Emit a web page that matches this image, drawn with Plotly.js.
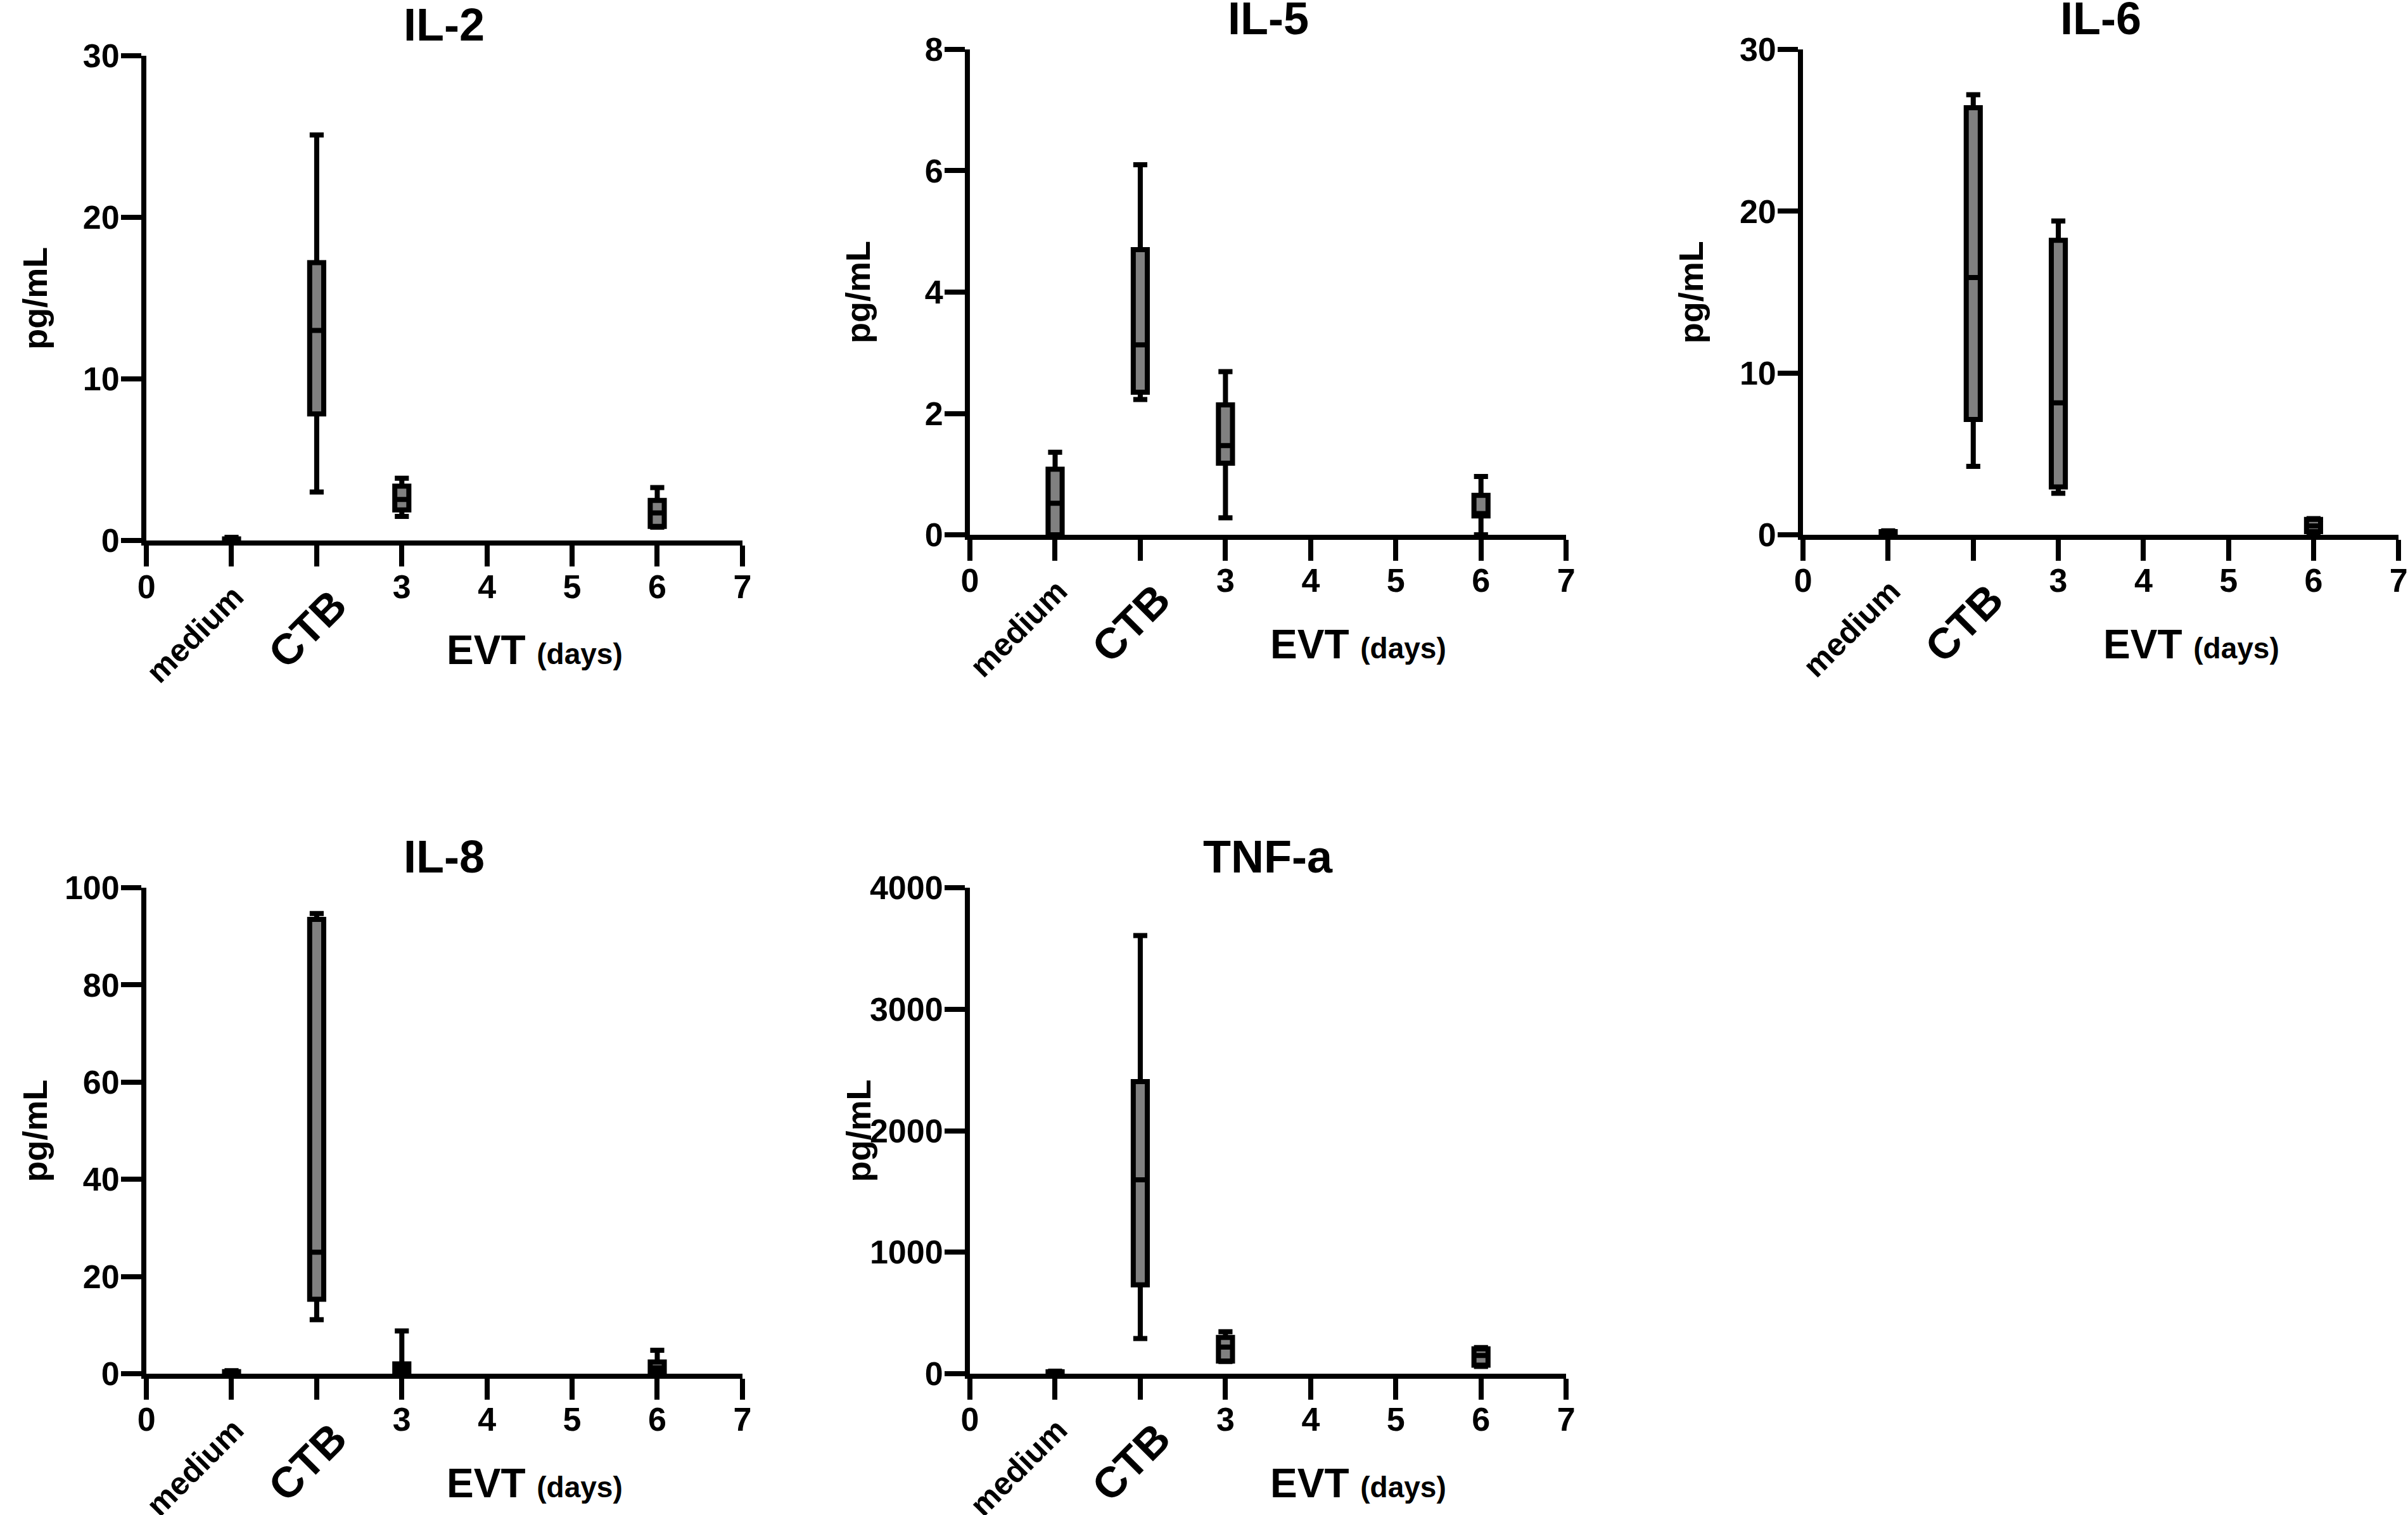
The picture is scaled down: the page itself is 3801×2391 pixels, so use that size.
<!DOCTYPE html>
<html>
<head>
<meta charset="utf-8">
<script src="https://cdn.plot.ly/plotly-3.0.1.min.js"></script>
<style>
  html, body { margin: 0; padding: 0; background: #ffffff; }
  #myDiv { width: 3801px; height: 2391px; }
</style>
</head>
<body>
<div id="myDiv"></div>
<script>
// group positions on the x axis: medium, CTB, EVT day 3, EVT day 6
var positions = [1, 2, 3, 6];
var xTickVals = [0, 1, 2, 3, 4, 5, 6, 7];
var xTickText = ['0', '', '', '3', '4', '5', '6', '7'];

var panelNames = ['IL-2', 'IL-5', 'IL-6', 'IL-8', 'TNF-a'];

// box statistics (pg/mL)
var il2Lower  = [0, 3.0, 1.49, 0.83];
var il2Q1     = [0, 7.84, 1.9, 0.88];
var il2Median = [0.05, 13.0, 2.54, 1.71];
var il2Q3     = [0.1, 17.2, 3.37, 2.48];
var il2Upper  = [0.2, 25.1, 3.86, 3.28];

var il5Lower  = [0, 2.23, 0.28, 0];
var il5Q1     = [0, 2.35, 1.18, 0.31];
var il5Median = [0.52, 3.13, 1.47, 0.35];
var il5Q3     = [1.08, 4.7, 2.14, 0.65];
var il5Upper  = [1.36, 6.1, 2.69, 0.96];

var il6Lower  = [0, 4.23, 2.57, 0.14];
var il6Q1     = [0, 7.13, 2.96, 0.2];
var il6Median = [0.1, 15.9, 8.16, 0.55];
var il6Q3     = [0.2, 26.4, 18.2, 0.95];
var il6Upper  = [0.25, 27.2, 19.4, 1.0];

var il8Lower  = [0, 11.1, 0, 0.2];
var il8Q1     = [0, 15.3, 0.3, 0.4];
var il8Median = [0.2, 25.0, 1.0, 1.2];
var il8Q3     = [0.4, 93.5, 2.0, 2.4];
var il8Upper  = [0.6, 94.7, 8.8, 4.8];

var tnfLower  = [0, 289, 100, 60];
var tnfQ1     = [0, 731, 104, 70];
var tnfMedium = [8, 1596, 219, 150];
var tnfQ3     = [15, 2404, 298, 205];
var tnfUpper  = [20, 3607, 345, 215];

var yRanges = [[0, 30], [0, 8], [0, 30], [0, 100], [0, 4000]];
var yDticks = [10, 2, 10, 20, 1000];

var stats = [
  [il2Lower, il2Q1, il2Median, il2Q3, il2Upper],
  [il5Lower, il5Q1, il5Median, il5Q3, il5Upper],
  [il6Lower, il6Q1, il6Median, il6Q3, il6Upper],
  [il8Lower, il8Q1, il8Median, il8Q3, il8Upper],
  [tnfLower, tnfQ1, tnfMedium, tnfQ3, tnfUpper]
];

// panel placement in paper coordinates
var xDomains = [[0.0608, 0.3083], [0.4028, 0.6504], [0.7488, 0.9961], [0.0608, 0.3083], [0.4028, 0.6504]];
var yDomains = [[0.6432, 0.9632], [0.6470, 0.9674], [0.6470, 0.9674], [0.0933, 0.4140], [0.0933, 0.4140]];

var FONT = 'Liberation Sans, Arial, sans-serif';
var LW = 8;

var data = [];
var annotations = [];
var layout = {
  width: 3801,
  height: 2391,
  margin: {l: 0, r: 0, t: 0, b: 0},
  paper_bgcolor: 'white',
  plot_bgcolor: 'white',
  showlegend: false,
  font: {family: FONT, color: 'black', weight: 'bold'},
  annotations: annotations
};

for (var i = 0; i < panelNames.length; i++) {
  var n = i === 0 ? '' : String(i + 1);
  var s = stats[i];

  data.push({
    type: 'box',
    x: positions,
    lowerfence: s[0],
    q1: s[1],
    median: s[2],
    q3: s[3],
    upperfence: s[4],
    width: 0.165,
    whiskerwidth: 1,
    boxpoints: false,
    fillcolor: 'rgb(128,128,128)',
    line: {color: 'black', width: LW},
    hoverinfo: 'skip',
    xaxis: 'x' + n,
    yaxis: 'y' + n
  });

  layout['xaxis' + n] = {
    domain: xDomains[i],
    anchor: 'y' + n,
    range: [0, 7],
    tickvals: xTickVals,
    ticktext: xTickText,
    ticks: 'outside',
    ticklen: 33,
    tickwidth: LW,
    tickcolor: 'black',
    ticklabelstandoff: -13,
    showline: true,
    linewidth: LW,
    linecolor: 'black',
    showgrid: false,
    zeroline: false,
    fixedrange: true,
    tickfont: {size: 52, family: FONT, weight: 'bold'}
  };
  layout['yaxis' + n] = {
    domain: yDomains[i],
    anchor: 'x' + n,
    range: yRanges[i],
    dtick: yDticks[i],
    ticks: 'outside',
    ticklen: 32,
    tickwidth: LW,
    tickcolor: 'black',
    ticklabelstandoff: -8,
    showline: true,
    linewidth: LW,
    linecolor: 'black',
    showgrid: false,
    zeroline: false,
    fixedrange: true,
    tickfont: {size: 52, family: FONT, weight: 'bold'}
  };

  var xr = 'x' + n;
  var yd = 'y' + n + ' domain';
  var base = {showarrow: false, xanchor: 'center', yanchor: 'middle'};
  annotations.push(
    Object.assign({text: panelNames[i], xref: xr, x: 3.5, yref: yd, y: 1, yshift: 49,
      font: {size: 72, weight: 'bold'}}, base),
    Object.assign({text: 'pg/mL', xref: 'x' + n + ' domain', x: 0, xshift: -177, yref: yd, y: 0.5,
      textangle: -90, font: {size: 54, weight: 'bold'}}, base),
    Object.assign({text: 'medium', xref: xr, x: 0.57, yref: yd, y: 0, yshift: -148,
      textangle: -45, font: {size: 50, weight: 'bold'}}, base),
    Object.assign({text: 'CTB', xref: xr, x: 1.89, yref: yd, y: 0, yshift: -139,
      textangle: -45, font: {size: 68, weight: 'bold'}}, base),
    Object.assign({text: "EVT <span style='font-size:46px'>(days)</span>", xref: xr, x: 4.56,
      yref: yd, y: 0, yshift: -173, font: {size: 64, weight: 'bold'}}, base)
  );
}

var config = {displayModeBar: false, staticPlot: true};

Plotly.newPlot('myDiv', data, layout, config);
</script>
</body>
</html>
